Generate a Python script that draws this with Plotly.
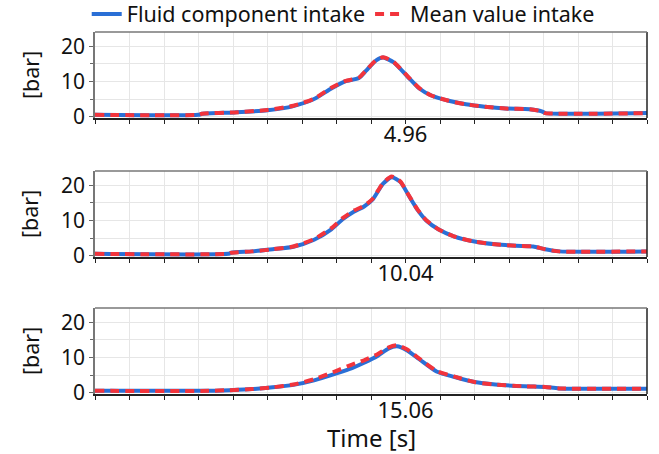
import plotly.graph_objects as go

# ---------------- data ----------------
t1 = [4.780, 4.840, 4.842, 4.861, 4.880, 4.895, 4.907, 4.917, 4.925, 4.933, 4.937, 4.943,
      4.947, 4.953, 4.961, 4.968, 4.975, 4.985, 4.995, 5.006, 5.018, 5.032, 5.039, 5.041, 5.100]
fluid1 = [0.5, 0.5, 0.8, 1.2, 1.8, 3.0, 5.0, 8.0, 10.0, 11.0, 13.0, 16.0,
          16.8, 15.5, 11.5, 8.0, 6.0, 4.5, 3.5, 2.8, 2.3, 2.1, 1.5, 1.0, 1.0]
mean1 = [0.5, 0.5, 0.8, 1.2, 1.9, 3.1, 5.1, 8.2, 10.1, 11.1, 13.1, 16.1,
         16.9, 15.6, 11.6, 8.1, 6.0, 4.5, 3.5, 2.8, 2.3, 2.1, 1.5, 1.0, 1.0]

t2 = [9.860, 9.937, 9.939, 9.951, 9.963, 9.975, 9.987, 9.997, 10.004, 10.010, 10.016, 10.021,
      10.027, 10.032, 10.037, 10.042, 10.047, 10.052, 10.059, 10.068, 10.080, 10.092, 10.104,
      10.114, 10.121, 10.129, 10.180]
fluid2 = [0.5, 0.5, 0.8, 1.2, 1.8, 2.5, 4.5, 7.5, 10.5, 12.5, 14.0, 16.0,
          20.5, 22.3, 21.0, 17.0, 13.0, 10.0, 7.5, 5.5, 4.0, 3.2, 2.8,
          2.6, 1.8, 1.2, 1.2]
mean2 = [0.5, 0.5, 0.8, 1.2, 1.8, 2.6, 4.7, 7.8, 10.8, 12.8, 14.2, 16.2,
         20.7, 22.5, 21.1, 17.1, 13.1, 10.1, 7.5, 5.5, 4.0, 3.2, 2.8,
         2.6, 1.8, 1.2, 1.2]

t3 = [14.880, 14.946, 14.958, 14.971, 14.983, 14.995, 15.007, 15.020, 15.029, 15.036, 15.044,
      15.050, 15.055, 15.061, 15.068, 15.078, 15.088, 15.100, 15.112, 15.129, 15.141, 15.149, 15.200]
fluid3 = [0.5, 0.5, 0.7, 1.0, 1.5, 2.2, 3.5, 5.5, 7.0, 8.5, 10.5,
          12.5, 13.2, 12.0, 9.5, 6.0, 4.5, 3.0, 2.3, 1.8, 1.6, 1.2, 1.1]
mean3 = [0.5, 0.5, 0.7, 1.0, 1.5, 2.3, 3.8, 6.2, 8.0, 9.2, 11.0,
         12.8, 13.5, 12.3, 9.7, 6.2, 4.6, 3.0, 2.3, 1.8, 1.6, 1.2, 1.1]

x_starts = [4.78, 9.86, 14.88]
tick_step = 0.02
n_ticks = 17
labelled_tick = 9
tick_labels = ["4.96", "10.04", "15.06"]
y_ticks = [0, 10, 20]

series = [(t1, fluid1, mean1), (t2, fluid2, mean2), (t3, fluid3, mean3)]
names = ["Fluid component intake", "Mean value intake"]

# ---------------- style ----------------
W, H = 659, 454
FONT = "Noto Sans"
BLUE = "#2a6fd6"
RED = "#f2343c"
TOP, BOT = 32, 394            # plot area (px from top)
PH = BOT - TOP
domains = [(118, 32), (257, 171), (394, 308)]  # (bottom px, top px)


def py(px):
    return (BOT - px) / PH


fig = go.Figure()
for i, (t, f, m) in enumerate(series):
    xa = "x" if i == 0 else f"x{i+1}"
    ya = "y" if i == 0 else f"y{i+1}"
    fig.add_trace(go.Scatter(x=t, y=f, mode="lines", name=names[0], xaxis=xa, yaxis=ya,
                             line=dict(color=BLUE, width=4, shape="spline", smoothing=0.6),
                             showlegend=(i == 0)))
    fig.add_trace(go.Scatter(x=t, y=m, mode="lines", name=names[1], xaxis=xa, yaxis=ya,
                             line=dict(color=RED, width=4, dash="9px,6px", shape="spline", smoothing=0.6),
                             showlegend=(i == 0)))

layout = dict(
    width=W, height=H,
    margin=dict(l=95, r=12, t=TOP, b=H - BOT, autoexpand=False),
    paper_bgcolor="white", plot_bgcolor="white",
    font=dict(family=FONT, size=21, color="#111111"),
    legend=dict(orientation="h", x=-0.015, xanchor="left", y=py(14), yanchor="middle",
                font=dict(size=21.5), itemwidth=30,
                bgcolor="rgba(0,0,0,0)"),
    annotations=[],
)

for i in range(3):
    sfx = "" if i == 0 else str(i + 1)
    bot, top = domains[i]
    x0 = x_starts[i]
    tv = [round(x0 + k * tick_step, 4) for k in range(n_ticks)]
    tt = ["" for _ in range(n_ticks)]
    tt[labelled_tick] = tick_labels[i]
    layout["xaxis" + sfx] = dict(
        domain=[0, 1], anchor="y" + sfx, range=[tv[0], tv[-1]],
        tickmode="array", tickvals=tv, ticktext=tt,
        ticks="outside", ticklen=4, tickcolor="#222", tickwidth=1,
        ticklabelstandoff=-8,
        showgrid=True, gridcolor="#e6e6e6", gridwidth=1,
        showline=True, linecolor="#222", linewidth=1.5, mirror=False,
        zeroline=False, tickfont=dict(size=22),
    )
    layout["yaxis" + sfx] = dict(
        domain=[py(bot), py(top)], anchor="x" + sfx, range=[-0.4, 24.1],
        tickmode="array", tickvals=y_ticks,
        ticks="outside", ticklen=4, tickcolor="#666",
        minor=dict(tickmode="array", tickvals=[5, 15], ticks="outside", ticklen=3,
                   tickcolor="#666", showgrid=True, gridcolor="#e6e6e6"),
        showgrid=True, gridcolor="#e6e6e6", gridwidth=1,
        showline=True, linecolor="#777", linewidth=1.5, mirror=False,
        zeroline=False, tickfont=dict(size=21),
    )
    layout["annotations"].append(dict(
        text="[bar]", xref="paper", yref="paper", x=0, xshift=-65,
        y=py((bot + top) / 2), textangle=-90, showarrow=False,
        font=dict(size=21.5), xanchor="center", yanchor="middle"))

layout["annotations"].append(dict(
    text="Time [s]", xref="paper", yref="paper", x=0.5, y=py(438),
    showarrow=False, font=dict(size=24), xanchor="center", yanchor="middle"))

fig.update_layout(**layout)
for i in range(3):
    bot, top = domains[i]
    fig.add_shape(type="line", xref="paper", yref="paper", x0=1, x1=1,
                  y0=py(bot), y1=py(top), line=dict(color="#222", width=1.5))
    fig.add_shape(type="line", xref="paper", yref="paper", x0=0, x1=1,
                  y0=py(top), y1=py(top), line=dict(color="#777", width=1.5))

fig.write_html("out.html")
